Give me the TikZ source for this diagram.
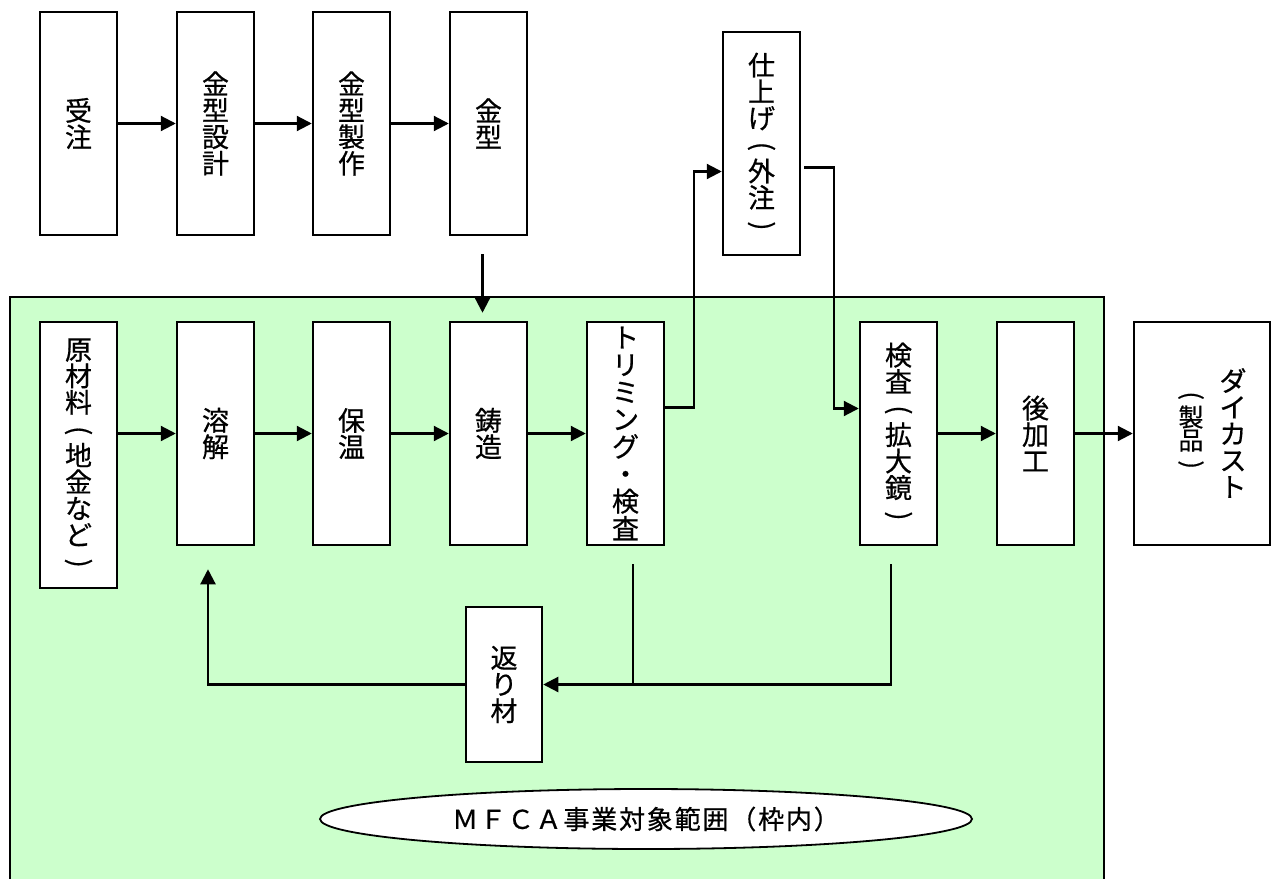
\documentclass[tikz,border=0pt]{standalone}
\usepackage{fontspec}
\newfontfamily\jp[FakeBold=0.6]{Noto Sans CJK JP}
\newfontfamily\jpsp[LetterSpace=7,FakeBold=0.6]{Noto Sans CJK JP}
\usetikzlibrary{arrows.meta,calc,shapes.geometric}
\definecolor{scopegreen}{RGB}{204,255,204}
\newcommand\vlp{\rotatebox[origin=c]{-90}{(}}
\newcommand\vrp{\rotatebox[origin=c]{-90}{)}}
\newcommand\jpsize[2]{\jp\fontsize{#1}{#2}\selectfont\lineskiplimit=-30pt\relax}
\begin{document}
\begin{tikzpicture}[x=1pt,y=-1pt,
  box/.style={draw=black,line width=2.5pt,fill=white,minimum width=77pt,minimum height=223pt,inner sep=0pt,align=center,font=\jpsize{27}{26.5}},
  vtext/.style={inner sep=0pt,align=center,font=\jpsize{27}{26.5}},
  conn/.style={line width=2.2pt,draw=black},
  arr/.style={conn,-{Triangle[length=15pt,width=15pt]}}]
\useasboundingbox (0,0) rectangle (1274,878);
% scope area
\fill[scopegreen] (10,297) rectangle (1104,900);
\draw[line width=2.5pt] (10,900) -- (10,297) -- (1104,297) -- (1104,900);
% top row
\node[box] (juchu) at (78.5,123.5) {受\\注};
\node[box] (sekkei) at (215.5,123.5) {金\\型\\設\\計};
\node[box] (seisaku) at (351.5,123.5) {金\\型\\製\\作};
\node[box] (kanagata) at (488.5,123.5) {金\\型};
\node[box] (shiage) at (761.5,143.5) {仕\\上\\げ\\\vlp\\外\\注\\\vrp};
% main row
\node[box,minimum height=266pt] (genzai) at (78.5,455) {原\\材\\料\\\vlp\\地\\金\\な\\ど\\\vrp};
\node[box] (yokai) at (215.5,433.5) {溶\\解};
\node[box] (hoon) at (351.5,433.5) {保\\温};
\node[box] (chuzo) at (488.5,433.5) {鋳\\造};
\node[box,font=\jpsize{27}{27.3}] (trim) at (625.5,433.5) {ト\\リ\\ミ\\ン\\グ\\・\\検\\査};
\node[box] (kensa) at (898.5,433.5) {検\\査\\\vlp\\拡\\大\\鏡\\\vrp};
\node[box] (atokako) at (1035.5,433.5) {後\\加\\工};
\node[box,minimum width=136pt] (diecast) at (1202,433.5) {};
\node[vtext] (dc1) at (1233,433) {ダ\\イ\\カ\\ス\\ト};
\node[vtext,font=\jpsize{25}{23}] (dc2) at (1191,432) {\vlp\\製\\品\\\vrp};
\node[box,minimum width=76pt,minimum height=155pt] (kaeri) at (504,684.5) {返\\り\\材};
% ellipse
\node[ellipse,draw=black,line width=1.8pt,fill=white,minimum width=652pt,minimum height=60pt,inner sep=0pt,font=\jpsp\fontsize{26}{26}\selectfont] (mfca) at (646,819) {ＭＦＣＡ事業対象範囲（枠内）};
% connectors top
\draw[arr] (juchu.east) -- (sekkei.west);
\draw[arr] (sekkei.east) -- (seisaku.west);
\draw[arr] (seisaku.east) -- (kanagata.west);
\draw[arr] ($(kanagata.south)+(-6,18)$) -- ($(chuzo.north)+(-6,-8)$);
% main row
\draw[arr] (genzai.east |- yokai.west) -- (yokai.west);
\draw[arr] (yokai.east) -- (hoon.west);
\draw[arr] (hoon.east) -- (chuzo.west);
\draw[arr] (chuzo.east) -- (trim.west);
\draw[arr] ($(trim.east)+(0,-26)$) -| ($(shiage.west)+(-28,28)$) -- ($(shiage.west)+(0,28)$);
\draw[arr] ($(shiage.east)+(3,24)$) -| ($(kensa.west)+(-25,-25)$) -- ($(kensa.west)+(0,-25)$);
\draw[arr] (kensa.east) -- (atokako.west);
\draw[arr] (atokako.east) -- (diecast.west);
% returns
\draw[conn] ($(trim.south)+(7.5,18)$) -- ($(trim.south)+(7.5,139.5)$);
\draw[arr] ($(kensa.south)+(-7.5,18)$) |- (kaeri.east);
\draw[arr] (kaeri.west) -| ($(yokai.south)+(-7.5,23)$);
\end{tikzpicture}
\end{document}
